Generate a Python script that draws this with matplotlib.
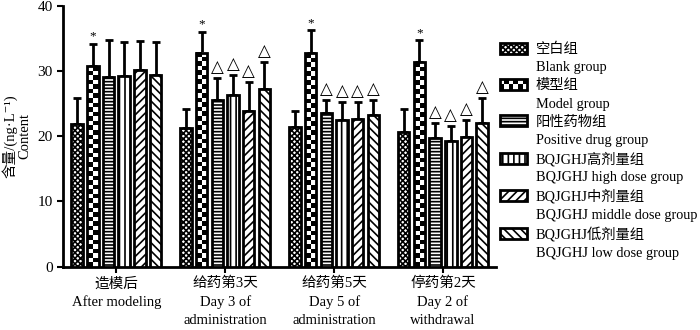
import matplotlib
matplotlib.use('Agg')
import matplotlib.pyplot as plt
from matplotlib.patches import Patch, Rectangle
from matplotlib.legend_handler import HandlerBase
import numpy as np

plt.rcParams['font.family'] = ['Liberation Serif', 'Noto Sans CJK SC', 'DejaVu Serif']
plt.rcParams['hatch.linewidth'] = 1.2

categories = ['造模后\nAfter modeling', '给药第3天\nDay 3 of\nadministration',
              '给药第5天\nDay 5 of\nadministration', '停药第2天\nDay 2 of\nwithdrawal']
groups_cn = ['空白组', '模型组', '阳性药物组', 'BQJGHJ高剂量组', 'BQJGHJ中剂量组', 'BQJGHJ低剂量组']
groups_en = ['Blank group', 'Model group', 'Positive drug group', 'BQJGHJ high dose group',
             'BQJGHJ middle dose group', 'BQJGHJ low dose group']

# mean values per group, one entry per time point
blank = [21.8, 21.3, 21.4, 20.7]
model = [30.8, 32.8, 32.7, 31.4]
positive = [29.1, 25.6, 23.5, 19.7]
high = [29.2, 26.3, 22.5, 19.3]
middle = [30.2, 23.8, 22.7, 19.8]
low = [29.3, 27.2, 23.2, 22.0]
# upper error bar lengths (SD)
blank_sd = [4.1, 2.9, 2.4, 3.4]
model_sd = [3.3, 3.2, 3.5, 3.3]
positive_sd = [5.6, 3.3, 2.1, 2.3]
high_sd = [5.2, 3.1, 2.8, 2.2]
middle_sd = [4.4, 4.5, 2.6, 2.7]
low_sd = [5.2, 4.2, 2.4, 3.9]

means = [blank, model, positive, high, middle, low]
sds = [blank_sd, model_sd, positive_sd, high_sd, middle_sd, low_sd]
hatches = ['xxxxxx', None, '-----', '|||', '////', '\\\\\\\\']


class CheckerHandler(HandlerBase):
    # legend box with a black/white checkerboard, like the model group bars
    def create_artists(self, legend, orig_handle, xdescent, ydescent, width, height,
                       fontsize, trans):
        x0, y0 = -xdescent, -ydescent
        arts = [Rectangle((x0, y0), width, height, facecolor='white', edgecolor='none',
                          transform=trans)]
        nc, nr = 6, 2
        cw, ch = width / nc, height / nr
        for r in range(nr):
            for c in range(nc):
                if (r + c) % 2 == 0:
                    arts.append(Rectangle((x0 + c * cw, y0 + r * ch), cw, ch,
                                          facecolor='black', edgecolor='none', transform=trans))
        arts.append(Rectangle((x0, y0), width, height, facecolor='none', edgecolor='black',
                              linewidth=2, transform=trans))
        return arts


fig = plt.figure(figsize=(7, 3.3), dpi=100)
ax = fig.add_axes([0.09, 0.192, 0.619, 0.791])

x = np.arange(len(categories))
step = 0.144
width = 0.105
for i in range(6):
    xs = x + (i - 2.5) * step
    if hatches[i] is None:
        ax.bar(xs, means[i], width, facecolor='none', edgecolor='black', linewidth=2,
               zorder=3.2)
        for j in range(4):
            rows = int(round(means[i][j] / 0.7))
            checker = np.add.outer(np.arange(rows), np.arange(2)) % 2
            ax.imshow(checker, cmap='gray', interpolation='nearest', aspect='auto',
                      origin='lower', zorder=3.1,
                      extent=[xs[j] - width / 2, xs[j] + width / 2, 0, means[i][j]])
    else:
        ax.bar(xs, means[i], width, color='white', edgecolor='black', linewidth=2,
               hatch=hatches[i], zorder=3)
    ax.errorbar(xs, means[i], yerr=[np.zeros(4), sds[i]], fmt='none', ecolor='black',
                elinewidth=2, capsize=3, capthick=2, zorder=2)
    for j in range(4):
        top = means[i][j] + sds[i][j]
        if i == 1:
            ax.text(xs[j], top + 0.2, '*', ha='center', va='bottom', fontsize=9.5)
        elif i >= 2 and j >= 1:
            ax.text(xs[j], top + 0.3, '△', ha='center', va='bottom', fontsize=12,
                    family=['DejaVu Sans'])

ax.set_xlim(-0.49, 3.49)
ax.set_ylim(0, 40)
ax.set_yticks([0, 10, 20, 30, 40])
ax.set_xticks(x)
ax.set_xticklabels(categories, fontsize=10.5, linespacing=1.45)
ax.tick_params(axis='y', labelsize=11, width=1.5, length=4)
ax.tick_params(axis='x', width=1.5, length=4)
for s in ['top', 'right']:
    ax.spines[s].set_visible(False)
for s in ['left', 'bottom']:
    ax.spines[s].set_linewidth(2)
ax.set_ylabel('含量/(ng·L⁻¹)\nContent', fontsize=10.5, linespacing=1.1)

handles = []
labels = []
handler_map = {}
for i in range(6):
    h = Patch(facecolor='white', edgecolor='black', linewidth=2, hatch=hatches[i])
    if hatches[i] is None:
        handler_map[h] = CheckerHandler()
    handles.append(h)
    labels.append(groups_cn[i])
    handles.append(Patch(facecolor='none', edgecolor='none'))
    labels.append(groups_en[i])
ax.legend(handles, labels, loc='upper left', bbox_to_anchor=(0.995, 0.88), frameon=False,
          fontsize=10.3, handlelength=1.9, handleheight=0.8, handletextpad=0.6,
          labelspacing=0.33, borderaxespad=0, handler_map=handler_map)

fig.savefig('out.png', dpi=100)
